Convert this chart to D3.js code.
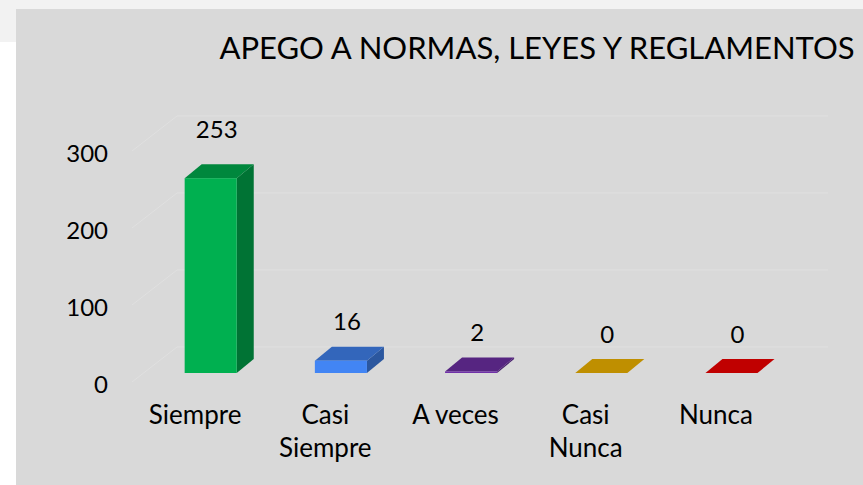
<!DOCTYPE html>
<html>
<head>
<meta charset="utf-8">
<script src="https://cdn.jsdelivr.net/npm/d3@7"></script>
<style>
  body { margin: 0; background: #fff; font-family: Lato, "Open Sans", sans-serif; }
  svg { display: block; }
</style>
</head>
<body>
<div id="chart"></div>
<script>
// data
const categories = ["Siempre", "Casi Siempre", "A veces", "Casi Nunca", "Nunca"];
const values = [253, 16, 2, 0, 0];
const yTicks = [0, 100, 200, 300];
const colors = ["#00b050", "#4285f4", "#7031a8", "#f9bb00", "#fb0000"];
const title = "APEGO A NORMAS, LEYES Y REGLAMENTOS";

const width = 863, height = 485;

// 3d projection bits
const wallDx = 45, wallDy = -35;   // full depth of the plot box
const barOffX = 11.6, barOffY = -9; // where the bars sit in depth
const barDx = 17, barDy = -14;      // depth of a bar

const svg = d3.select("#chart").append("svg")
  .attr("width", width).attr("height", height);

// page background + panel
svg.append("rect").attr("x", 0).attr("y", 0).attr("width", width).attr("height", 42).attr("fill", "#f2f2f2");
svg.append("rect").attr("x", 16).attr("y", 9).attr("width", width - 16).attr("height", height - 9).attr("fill", "#d9d9d9");

const x = d3.scaleBand()
  .domain(categories)
  .range([134, 785])
  .paddingInner(0.6)
  .paddingOuter(0.3);

const y = d3.scaleLinear().domain([0, 300]).range([382, 151]);

// grid: back wall lines and side wall diagonals
const grid = svg.append("g").attr("stroke", "#e0e0e0").attr("stroke-width", 1).attr("fill", "none");
grid.selectAll("line.back")
  .data(yTicks)
  .join("line")
  .attr("class", "back")
  .attr("x1", 132 + wallDx).attr("x2", 783 + wallDx)
  .attr("y1", d => y(d) + wallDy).attr("y2", d => y(d) + wallDy);
grid.selectAll("line.side")
  .data(yTicks)
  .join("line")
  .attr("class", "side")
  .attr("x1", 132).attr("x2", 132 + wallDx)
  .attr("y1", d => y(d)).attr("y2", d => y(d) + wallDy);

// y labels
svg.append("g").selectAll("text")
  .data(yTicks)
  .join("text")
  .attr("x", 108)
  .attr("y", d => y(d) + 3)
  .attr("dy", "0.35em")
  .attr("text-anchor", "end")
  .attr("font-size", 24)
  .attr("fill", "#000")
  .text(d => d);

// bars
const bw = x.bandwidth();
const bars = svg.append("g").selectAll("g")
  .data(categories.map((c, i) => ({ c, v: values[i], col: colors[i] })))
  .join("g")
  .attr("transform", d => `translate(${x(d.c) + barOffX},${barOffY})`);

bars.append("path") // side
  .attr("fill", d => d3.color(d.col).darker(1.2))
  .attr("d", d => {
    const y0 = y(0), y1 = y(d.v);
    return `M${bw},${y0}L${bw + barDx},${y0 + barDy}L${bw + barDx},${y1 + barDy}L${bw},${y1}Z`;
  });
bars.append("path") // top
  .attr("fill", d => d3.color(d.col).darker(0.75))
  .attr("d", d => {
    const y1 = y(d.v);
    return `M0,${y1}L${barDx},${y1 + barDy}L${bw + barDx},${y1 + barDy}L${bw},${y1}Z`;
  });
bars.append("rect") // front
  .attr("x", 0)
  .attr("y", d => y(d.v))
  .attr("width", bw)
  .attr("height", d => y(0) - y(d.v))
  .attr("fill", d => d.col);

// value labels
bars.append("text")
  .attr("x", bw / 2 + 6)
  .attr("y", d => y(d.v) - 30 - (y(0) - y(d.v)) * 0.05)
  .attr("text-anchor", "middle")
  .attr("font-size", 24)
  .attr("fill", "#000")
  .text(d => d.v);

// category labels
const catLabels = svg.append("g").selectAll("text")
  .data(categories)
  .join("text")
  .attr("x", d => x(d) + bw / 2 - 4)
  .attr("y", 424)
  .attr("text-anchor", "middle")
  .attr("font-size", 26)
  .attr("fill", "#000");
catLabels.each(function (d) {
  const words = d.split(" ");
  const lines = d === "A veces" ? [d] : words;
  d3.select(this).selectAll("tspan")
    .data(lines)
    .join("tspan")
    .attr("x", x(d) + bw / 2 - 4)
    .attr("dy", (l, i) => i ? 33 : 0)
    .text(l => l);
});

// title
svg.append("text")
  .attr("x", 537)
  .attr("y", 59)
  .attr("text-anchor", "middle")
  .attr("font-size", 31)
  .attr("fill", "#000")
  .text(title);
</script>
</body>
</html>
